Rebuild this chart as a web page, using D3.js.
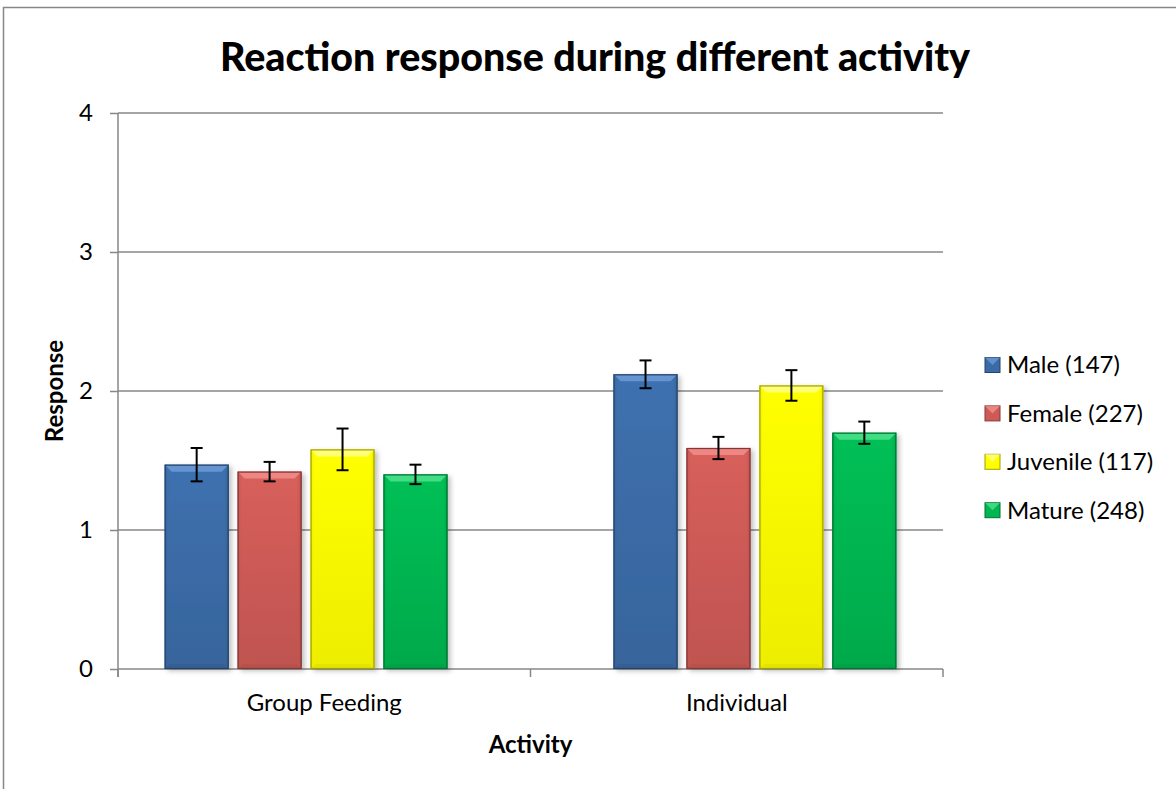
<!DOCTYPE html>
<html>
<head>
<meta charset="utf-8">
<script src="https://cdn.jsdelivr.net/npm/d3@7"></script>
<style>
  html, body { margin: 0; padding: 0; background: #fff; }
  svg { display: block; }
  text { font-family: Lato, "Open Sans", "Noto Sans", sans-serif; fill: #000; }
</style>
</head>
<body>
<svg id="chart" width="1176" height="789"></svg>
<script>
// chart data
var categories = ["Group Feeding", "Individual"];
var seriesNames = ["Male (147)", "Female (227)", "Juvenile (117)", "Mature (248)"];
var maleValues = [1.47, 2.12];
var maleErrors = [0.12, 0.10];
var femaleValues = [1.42, 1.59];
var femaleErrors = [0.07, 0.08];
var juvenileValues = [1.58, 2.04];
var juvenileErrors = [0.15, 0.11];
var matureValues = [1.40, 1.70];
var matureErrors = [0.07, 0.08];
var yTicks = [0, 1, 2, 3, 4];
var seriesColors = ["#3B6BA6", "#CD5A56", "#FFFF00", "#00B651"];
var bevelColors = ["#6C9AD6", "#F28D89", "#FFFF8A", "#4FE08E"];

var allValues = [maleValues, femaleValues, juvenileValues, matureValues];
var allErrors = [maleErrors, femaleErrors, juvenileErrors, matureErrors];

var rows = [];
categories.forEach(function (cat, ci) {
    seriesNames.forEach(function (s, si) {
        rows.push({cat: cat, series: s, si: si, value: allValues[si][ci], err: allErrors[si][ci]});
    });
});

var svg = d3.select("#chart");
var plotLeft = 118, plotRight = 943, plotTop = 113, plotBottom = 669;
var labelSize = "24px";

// outer chart border
svg.append("rect")
    .attr("x", 3.5).attr("y", 7.5)
    .attr("width", 1300).attr("height", 900)
    .attr("fill", "none")
    .attr("stroke", "#878787")
    .attr("stroke-width", 1.5);

var defs = svg.append("defs");
var shadow = defs.append("filter").attr("id", "shadow")
    .attr("x", "-20%").attr("y", "-10%").attr("width", "140%").attr("height", "130%");
shadow.append("feDropShadow")
    .attr("dx", 3).attr("dy", 2).attr("stdDeviation", 2.5)
    .attr("flood-color", "#000").attr("flood-opacity", 0.25);

seriesColors.forEach(function (c, i) {
    var g = defs.append("linearGradient").attr("id", "grad" + i)
        .attr("x1", 0).attr("y1", 0).attr("x2", 0).attr("y2", 1);
    g.append("stop").attr("offset", "0%").attr("stop-color", d3.rgb(c).brighter(0.15));
    g.append("stop").attr("offset", "100%").attr("stop-color", d3.rgb(c).darker(0.2));
    var h = defs.append("linearGradient").attr("id", "hgrad" + i)
        .attr("x1", 0).attr("y1", 0).attr("x2", 1).attr("y2", 0);
    h.append("stop").attr("offset", "0%").attr("stop-color", d3.rgb(c).darker(0.35)).attr("stop-opacity", 0.6);
    h.append("stop").attr("offset", "8%").attr("stop-color", c).attr("stop-opacity", 0);
    h.append("stop").attr("offset", "92%").attr("stop-color", c).attr("stop-opacity", 0);
    h.append("stop").attr("offset", "100%").attr("stop-color", d3.rgb(c).darker(0.5)).attr("stop-opacity", 0.7);
});

var y = d3.scaleLinear().domain([0, 4]).range([plotBottom, plotTop]);

// axis label positions
var xAxisBand = d3.scaleBand().domain(categories).range([plotLeft, plotRight]);
// bar clusters sit a little outward of the category centres
var x0 = d3.scaleBand().domain(categories).range([plotLeft, plotRight])
    .paddingInner(0.37).paddingOuter(0.104);
var x1 = d3.scaleBand().domain(seriesNames).range([0, x0.bandwidth()])
    .paddingInner(0.123).paddingOuter(0);

// gridlines
svg.append("g").selectAll("line")
    .data(yTicks.filter(function (t) { return t > 0; }))
    .enter().append("line")
    .attr("x1", plotLeft).attr("x2", plotRight)
    .attr("y1", function (d) { return y(d); })
    .attr("y2", function (d) { return y(d); })
    .attr("stroke", "#878787").attr("stroke-width", 1.5);

// y axis
var yAxis = svg.append("g").attr("transform", "translate(" + plotLeft + ",0)")
    .call(d3.axisLeft(y).tickValues(yTicks).tickSize(8).tickPadding(17).tickFormat(d3.format("d")));
yAxis.select(".domain").attr("stroke", "#878787").attr("stroke-width", 1.5)
    .attr("d", "M0," + plotTop + "V" + (plotBottom + 8));
yAxis.selectAll(".tick line").attr("stroke", "#878787").attr("stroke-width", 1.5);
yAxis.selectAll(".tick text").style("font-size", labelSize).style("font-family", "Lato, 'Open Sans', sans-serif");

// x axis
var xAxis = svg.append("g").attr("transform", "translate(0," + plotBottom + ")");
xAxis.append("line")
    .attr("x1", plotLeft).attr("x2", plotRight)
    .attr("stroke", "#878787").attr("stroke-width", 1.5);
var xTickPos = [plotLeft].concat(categories.map(function (c) { return xAxisBand(c) + xAxisBand.bandwidth(); }));
xAxis.selectAll("line.tk").data(xTickPos).enter().append("line")
    .attr("class", "tk")
    .attr("x1", function (d) { return d; }).attr("x2", function (d) { return d; })
    .attr("y1", 0).attr("y2", 8)
    .attr("stroke", "#878787").attr("stroke-width", 1.5);
xAxis.selectAll("text").data(categories).enter().append("text")
    .attr("x", function (d) { return xAxisBand(d) + xAxisBand.bandwidth() / 2; })
    .attr("y", 42)
    .attr("text-anchor", "middle")
    .style("font-size", labelSize)
    .text(function (d) { return d; });

// bars
var bars = svg.append("g").selectAll("g.bar")
    .data(rows).enter().append("g")
    .attr("class", "bar")
    .attr("transform", function (d) { return "translate(" + (x0(d.cat) + x1(d.series)) + ",0)"; });

var bw = x1.bandwidth();
var bev = 7;

bars.append("rect")
    .attr("x", 0).attr("width", bw)
    .attr("y", function (d) { return y(d.value); })
    .attr("height", function (d) { return plotBottom - y(d.value); })
    .attr("fill", function (d) { return "url(#grad" + d.si + ")"; })
    .attr("filter", "url(#shadow)");
bars.append("rect")
    .attr("x", 0).attr("width", bw)
    .attr("y", function (d) { return y(d.value); })
    .attr("height", function (d) { return plotBottom - y(d.value); })
    .attr("fill", function (d) { return "url(#hgrad" + d.si + ")"; });
// top bevel
bars.append("path")
    .attr("d", function (d) {
        var t = y(d.value);
        return "M0," + t + "L" + bw + "," + t + "L" + (bw - bev) + "," + (t + bev) + "L" + bev + "," + (t + bev) + "Z";
    })
    .attr("fill", function (d) { return bevelColors[d.si]; })
    .attr("opacity", 0.85);
// bottom bevel
bars.append("path")
    .attr("d", function (d) {
        var b = plotBottom;
        return "M0," + b + "L" + bw + "," + b + "L" + (bw - 5) + "," + (b - 5) + "L5," + (b - 5) + "Z";
    })
    .attr("fill", function (d) { return d3.rgb(seriesColors[d.si]).darker(0.4); })
    .attr("opacity", 0.6);
bars.append("rect")
    .attr("x", 0.5).attr("width", bw - 1)
    .attr("y", function (d) { return y(d.value) + 0.5; })
    .attr("height", function (d) { return plotBottom - y(d.value) - 1; })
    .attr("fill", "none")
    .attr("stroke", function (d) { return d3.rgb(seriesColors[d.si]).darker(1.3); })
    .attr("stroke-width", 1.2);

// error bars
var errs = svg.append("g").selectAll("g.err")
    .data(rows).enter().append("g")
    .attr("class", "err")
    .attr("transform", function (d) { return "translate(" + (x0(d.cat) + x1(d.series) + bw / 2) + ",0)"; })
    .attr("stroke", "#000").attr("stroke-width", 2);
errs.append("line")
    .attr("y1", function (d) { return y(d.value + d.err); })
    .attr("y2", function (d) { return y(d.value - d.err); });
errs.append("line").attr("x1", -6).attr("x2", 6)
    .attr("y1", function (d) { return y(d.value + d.err); })
    .attr("y2", function (d) { return y(d.value + d.err); });
errs.append("line").attr("x1", -6).attr("x2", 6)
    .attr("y1", function (d) { return y(d.value - d.err); })
    .attr("y2", function (d) { return y(d.value - d.err); });

// title and axis titles
svg.append("text")
    .attr("x", 595).attr("y", 71)
    .attr("text-anchor", "middle")
    .attr("textLength", 750).attr("lengthAdjust", "spacingAndGlyphs")
    .style("font-size", "39px").style("font-weight", "900")
    .text("Reaction response during different activity");

svg.append("text")
    .attr("transform", "translate(63," + ((plotTop + plotBottom) / 2) + ") rotate(-90)")
    .attr("text-anchor", "middle")
    .style("font-size", labelSize).style("font-weight", "bold")
    .text("Response");

svg.append("text")
    .attr("x", (plotLeft + plotRight) / 2).attr("y", 753)
    .attr("text-anchor", "middle")
    .style("font-size", labelSize).style("font-weight", "bold")
    .text("Activity");

// legend
var legend = svg.append("g").selectAll("g.leg")
    .data(seriesNames).enter().append("g")
    .attr("class", "leg")
    .attr("transform", function (d, i) { return "translate(985," + (365 + i * 48.4) + ")"; });
legend.append("rect")
    .attr("x", 0).attr("y", -7.5).attr("width", 15).attr("height", 15)
    .attr("fill", function (d, i) { return seriesColors[i]; })
    .attr("stroke", function (d, i) { return d3.rgb(seriesColors[i]).darker(1.3); })
    .attr("stroke-width", 1);
legend.append("path")
    .attr("d", "M0,-7.5L15,-7.5L7.5,0Z")
    .attr("fill", function (d, i) { return bevelColors[i]; })
    .attr("opacity", 0.8);
legend.append("text")
    .attr("x", 22).attr("y", 0).attr("dy", "0.35em")
    .style("font-size", labelSize)
    .text(function (d) { return d; });
</script>
</body>
</html>
